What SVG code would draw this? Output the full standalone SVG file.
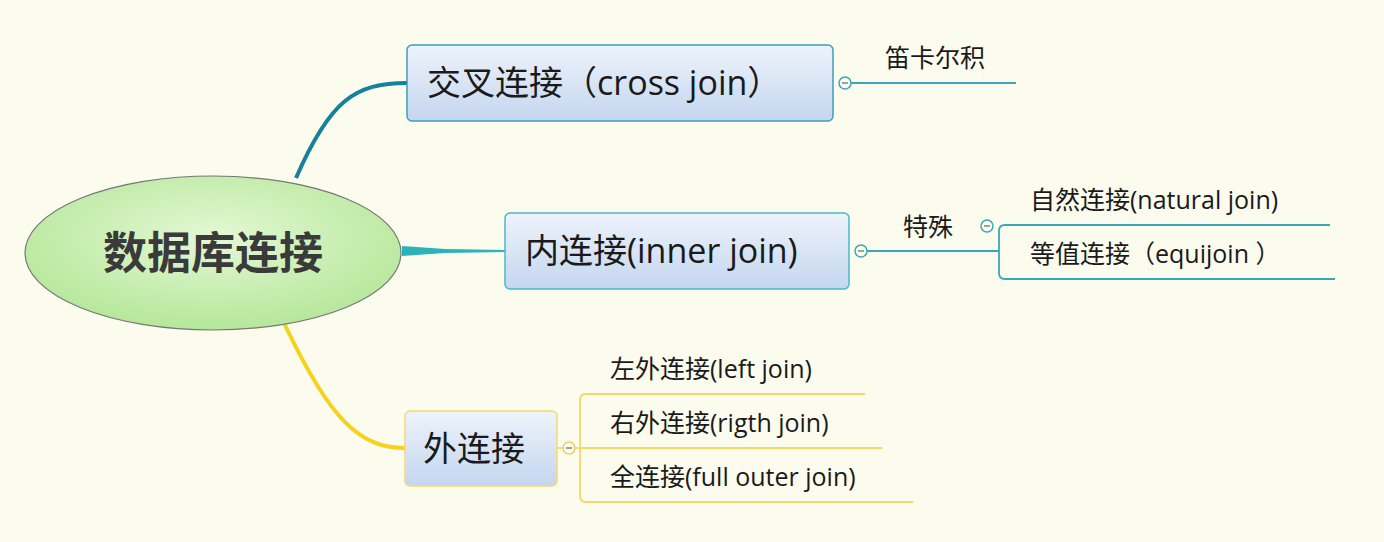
<svg xmlns="http://www.w3.org/2000/svg" width="1384" height="542" viewBox="0 0 1384 542">
<defs>
<linearGradient id="box" x1="0" y1="0" x2="0" y2="1"><stop offset="0" stop-color="#eef3fb"/><stop offset="1" stop-color="#c4d6ef"/></linearGradient>
<radialGradient id="root" cx="0.5" cy="0.4" r="0.6"><stop offset="0" stop-color="#e4f8d4"/><stop offset="1" stop-color="#b5e79a"/></radialGradient>
</defs>
<style>
.t{font-family:"Open Sans","Noto Sans CJK SC",sans-serif;fill:#1a1a1a}
.big{font-size:34px}.sm{font-size:25px}
.c{fill:#fbfbee;stroke-width:1.5}
</style>
<rect width="1384" height="542" fill="#fbfbee"/>
<g id="connectors" fill="none">
<path d="M296,178 C330,100 355,83 407,83" stroke="#15819a" stroke-width="4"/>
<path d="M402,246 L445,249 L505,250 L505,252 L445,253 L402,256 Z" fill="#2ab3b8" stroke="none"/>
<path d="M285,325 C330,420 360,448 405,448" stroke="#f5d21c" stroke-width="4"/>
<g stroke="#3aa7b9" stroke-width="1.8">
<line x1="851" y1="83" x2="1016" y2="83"/>
<line x1="867" y1="251" x2="999" y2="251"/>
<path d="M1330,225 H1005 Q999,225 999,231 V273 Q999,279 1005,279 H1335"/>
</g>
<g stroke="#f5d86a" stroke-width="1.8">
<line x1="557" y1="448" x2="580" y2="448"/>
<path d="M865,394 H586 Q580,394 580,400 V496 Q580,502 586,502 H913"/>
<line x1="580" y1="448" x2="882" y2="448"/>
</g>
<g class="c">
<circle cx="845" cy="83" r="6" stroke="#3aa7b9"/>
<circle cx="861" cy="251" r="6" stroke="#3aa7b9"/>
<circle cx="987" cy="226" r="6" stroke="#3aa7b9"/>
<circle cx="569" cy="448" r="6" stroke="#f0cf60"/>
</g>
<g stroke="#666" stroke-width="1.2">
<line x1="842" y1="83" x2="848" y2="83"/><line x1="858" y1="251" x2="864" y2="251"/>
<line x1="984" y1="226" x2="990" y2="226"/><line x1="566" y1="448" x2="572" y2="448"/>
</g>
</g>
<g id="root-node">
<ellipse cx="213" cy="253" rx="188" ry="77" fill="url(#root)" stroke="#777" stroke-width="1.2"/>
<text x="213" y="269" text-anchor="middle" class="t" font-size="44" font-weight="bold" fill="#3a3a3a" style="fill:#3a3a3a">数据库连接</text>
</g>
<g id="cross">
<rect x="407" y="45" width="426" height="76" rx="5" fill="url(#box)" stroke="#3a9fc0" stroke-width="1.5"/>
<text x="427" y="95" class="t big">交叉连接（cross join）</text>
</g>
<g id="inner">
<rect x="505" y="213" width="344" height="76" rx="5" fill="url(#box)" stroke="#44bcc6" stroke-width="1.5"/>
<text x="525" y="263" class="t big">内连接(inner join)</text>
</g>
<g id="outer">
<rect x="405" y="411" width="152" height="75" rx="5" fill="url(#box)" stroke="#f5dc70" stroke-width="1.5"/>
<text x="423" y="461" class="t big">外连接</text>
</g>
<g id="cartesian"><text x="885" y="67" class="t sm">笛卡尔积</text></g>
<g id="special"><text x="903" y="236" class="t sm">特殊</text></g>
<g id="natural"><text x="1030" y="209" class="t sm">自然连接(natural join)</text></g>
<g id="equi"><text x="1030" y="263" class="t sm">等值连接（equijoin ）</text></g>
<g id="left"><text x="610" y="378" class="t sm">左外连接(left join)</text></g>
<g id="right"><text x="610" y="432" class="t sm">右外连接(rigth join)</text></g>
<g id="full"><text x="610" y="486" class="t sm">全连接(full outer join)</text></g>
</svg>
